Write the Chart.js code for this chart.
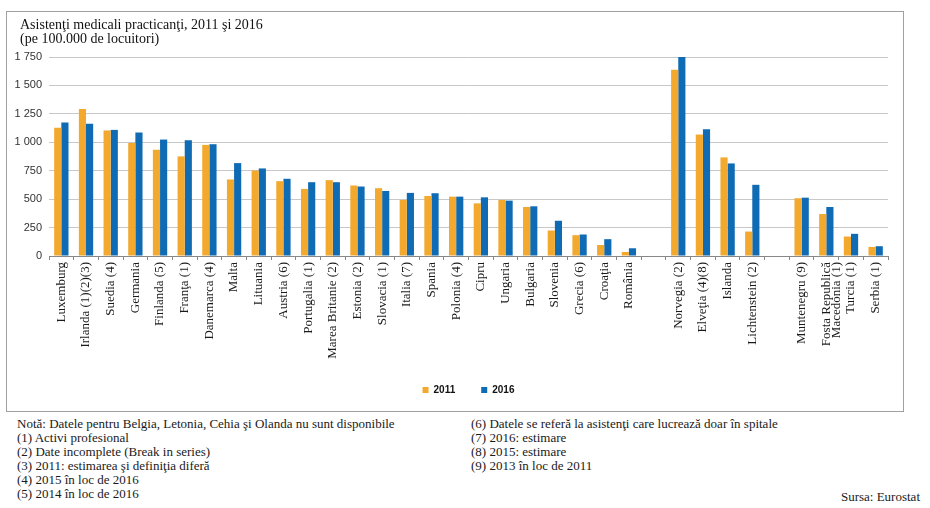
<!DOCTYPE html>
<html>
<head>
<meta charset="utf-8">
<script src="https://cdn.jsdelivr.net/npm/chart.js@4.4.1/dist/chart.umd.min.js"></script>
<style>
  body { margin: 0; background: #fff; width: 930px; height: 508px; overflow: hidden; position: relative; font-family: "Liberation Serif", serif; color: #1a1a1a; }
  #box { position: absolute; left: 6px; top: 11px; width: 896px; height: 399px; border: 1.5px solid #a0a0a0; }
  #title { position: absolute; left: 13px; top: 6px; font-size: 14px; line-height: 14px; color: #111; }
  #chart-wrap { position: absolute; left: 0; top: 0; width: 896px; height: 399px; }
  .notes { position: absolute; top: 417px; font-size: 13px; line-height: 14px; color: #1a1a1a; white-space: nowrap; }
  #src { position: absolute; right: 10px; top: 489px; font-size: 13px; color: #1a1a1a; }
</style>
</head>
<body>
<div id="box">
  <div id="chart-wrap"><canvas id="progressChart"></canvas></div>
  <div id="title">Asistenţi medicali practicanţi, 2011 şi 2016<br>(pe 100.000 de locuitori)</div>
</div>
<div class="notes" style="left:17px">Notă: Datele pentru Belgia, Letonia, Cehia şi Olanda nu sunt disponibile<br>(1) Activi profesional<br>(2) Date incomplete (Break in series)<br>(3) 2011: estimarea şi definiţia diferă<br>(4) 2015 în loc de 2016<br>(5) 2014 în loc de 2016</div>
<div class="notes" style="left:471px">(6) Datele se referă la asistenţi care lucrează doar în spitale<br>(7) 2016: estimare<br>(8) 2015: estimare<br>(9) 2013 în loc de 2011</div>
<div id="src">Sursa: Eurostat</div>
<script>
const countries = [
    'Luxemburg', 'Irlanda (1)(2)(3)', 'Suedia (4)', 'Germania', 'Finlanda (5)', 'Franţa (1)',
    'Danemarca (4)', 'Malta', 'Lituania', 'Austria (6)', 'Portugalia (1)', 'Marea Britanie (2)',
    'Estonia (2)', 'Slovacia (1)', 'Italia (7)', 'Spania', 'Polonia (4)', 'Cipru', 'Ungaria',
    'Bulgaria', 'Slovenia', 'Grecia (6)', 'Croaţia', 'România', '',
    'Norvegia (2)', 'Elveţia (4)(8)', 'Islanda', 'Lichtenstein (2)', '',
    'Muntenegru (9)', ['Fosta Republică', 'Macedonia (1)'], 'Turcia (1)', 'Serbia (1)'
];
const values2011 = [
    1127, 1292, 1104, 994, 935, 876, 977, 673, 752, 658, 590, 667,
    620, 596, 493, 528, 522, 463, 493, 431, 224, 183, 97, 35, null,
    1638, 1068, 867, 215, null,
    508, 369, 171, 80
];
const values2016 = [
    1174, 1163, 1109, 1086, 1024, 1018, 983, 817, 770, 679, 649, 649,
    611, 572, 555, 552, 522, 516, 487, 437, 310, 189, 148, 68, null,
    1750, 1115, 814, 626, null,
    513, 431, 195, 86
];
const yTicks = [0, 250, 500, 750, 1000, 1250, 1500, 1750];

const ctx = document.getElementById('progressChart').getContext('2d');
window.myChart = new Chart(ctx, {
    type: 'bar',
    data: {
        labels: countries,
        datasets: [{
            label: '2011',
            data: values2011,
            backgroundColor: '#f3a82e',
            barPercentage: 1,
            categoryPercentage: 0.58
        }, {
            label: '2016',
            data: values2016,
            backgroundColor: '#0f6bb4',
            barPercentage: 1,
            categoryPercentage: 0.58
        }]
    },
    options: {
        responsive: true,
        maintainAspectRatio: false,
        animation: false,
        layout: { padding: { top: 45, right: 15, left: 0, bottom: 6 } },
        plugins: {
            tooltip: { enabled: false },
            legend: {
                position: 'bottom',
                fullSize: false,
                labels: {
                    boxWidth: 6,
                    boxHeight: 6,
                    padding: 26,
                    color: '#111',
                    font: { family: 'Liberation Sans', size: 10, weight: 'bold' }
                }
            }
        },
        scales: {
            x: {
                grid: { drawOnChartArea: false, drawTicks: true, tickLength: 4, color: '#888', offset: true },
                border: { color: '#888', width: 1 },
                afterFit: function(scale) { scale.height = 103; },
                ticks: {
                    autoSkip: false,
                    minRotation: 90,
                    maxRotation: 90,
                    padding: 2,
                    color: '#1a1a1a',
                    font: { family: 'Liberation Serif', size: 13, lineHeight: 0.8 }
                }
            },
            y: {
                min: 0,
                max: 1750,
                afterFit: function(scale) { scale.width = 42; },
                afterBuildTicks: function(scale) { scale.ticks = yTicks.map(v => ({ value: v })); },
                border: { display: false },
                grid: { color: '#c8c8c8', lineWidth: 1, drawTicks: false, borderDash: [2, 2] },
                ticks: {
                    padding: 7,
                    color: '#333',
                    font: { family: 'Liberation Sans', size: 11 },
                    callback: function(value) { return String(value).replace(/\B(?=(\d{3})+(?!\d))/g, ' '); }
                }
            }
        }
    }
});
</script>
</body>
</html>
